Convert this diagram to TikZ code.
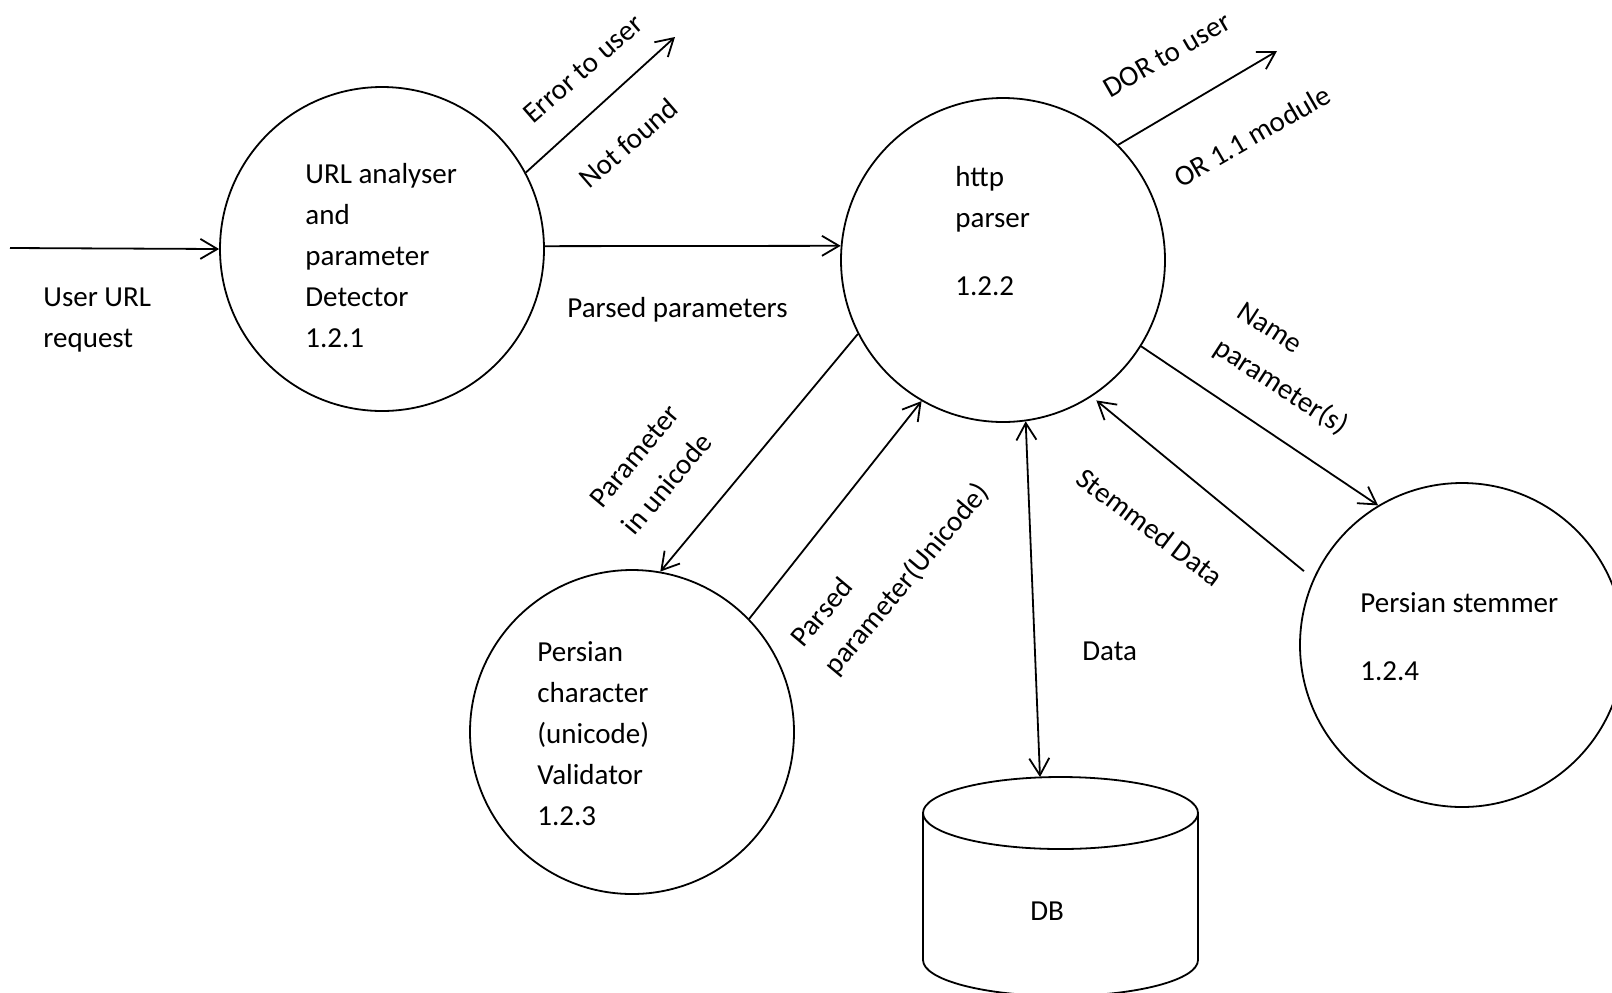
\documentclass[tikz,border=0pt]{standalone}
\usepackage{fontspec}
\setmainfont{Carlito}
\usetikzlibrary{arrows.meta}

\begin{document}
\begin{tikzpicture}[x=0.5pt, y=-0.5pt,
  proc/.style={circle, draw, line width=0.9pt, minimum size=162pt, inner sep=0pt},
  barb/.tip={Straight Barb[length=8.5pt, width=10pt]},
  flow/.style={line width=0.9pt, -barb},
  both/.style={line width=0.9pt, barb-barb},
  % multi-line texts are placed by the baseline of their last line
  txt/.style={inner sep=0pt, align=left, anchor=base west, font=\fontsize{14.5}{20.5}\selectfont},
  lbl/.style={inner sep=0pt, align=left, font=\fontsize{14.5}{21.5}\selectfont},
]
\useasboundingbox (0,0) rectangle (1612,992);

% processes
\node[proc] (url)  at (382,249) {};
\node[proc] (http) at (1003,260) {};
\node[proc] (val)  at (632,732) {};
\node[proc] (stem) at (1462,645) {};

\node[txt] (urltxt)  at (305,347) {URL analyser\\and\\parameter\\Detector\\1.2.1};
\node[txt] (httptxt) at (955,295) {http\\parser\\[13.5pt]1.2.2};
\node[txt] (valtxt)  at (537,825) {Persian\\character\\(unicode)\\Validator\\1.2.3};
\node[txt] (stemtxt) at (1360,680) {Persian stemmer\\[13.5pt]1.2.4};

% data store
\draw[line width=0.9pt] (1060.5,813) ellipse [x radius=137.5, y radius=36];
\draw[line width=0.9pt] (923,813) -- (923,960)
  arc[start angle=180, end angle=0, x radius=137.5, y radius=36] -- (1198,813);
\node[txt] (db) at (1030,920) {DB};
\coordinate (dbtop) at (1040,777);

% external ends
\coordinate (src)    at (10,248);
\coordinate (errend) at (675,37);
\coordinate (dorend) at (1277,51);

% flows
\draw[flow] (src) -- (url.west);
\draw[flow] (url.1) -- (http.175);
\draw[flow] (url.28) -- (errend);
\draw[flow] (http.45) -- (dorend);
\draw[flow] (http.207) -- (val.80);
\draw[flow] (val.44) -- (http.240);
\draw[flow] (http.328) -- (stem.121);
\draw[flow, shorten <=6pt, shorten >=3pt] (stem.156) -- (http.303);
\draw[both] (http.278) -- (dbtop);

% flow labels
\node[txt] (usrtxt)    at (43,347)  {User URL\\request};
\node[txt] (parsedtxt) at (567,317) {Parsed parameters};
\node[txt] (datatxt)   at (1082,660) {Data};
\node[lbl, rotate=41]  (errlbl)  at (583,69)   {Error to user};
\node[lbl, rotate=41]  (nflbl)   at (628,143)  {Not found};
\node[lbl, rotate=30]  (dorlbl)  at (1167,55)  {DOR to user};
\node[lbl, rotate=30]  (orlbl)   at (1252,136) {OR 1.1 module};
\node[lbl, rotate=50]  (unilbl)  at (651,470)  {Parameter\\in unicode};
\node[lbl, rotate=50]  (pplbl)   at (891,566)  {Parsed\\parameter(Unicode)};
\node[lbl, rotate=-33] (namelbl) at (1292,370) {Name\\parameter(s)};
\node[lbl, rotate=-37] (stemlbl) at (1150,527) {Stemmed Data};
\end{tikzpicture}
\end{document}
